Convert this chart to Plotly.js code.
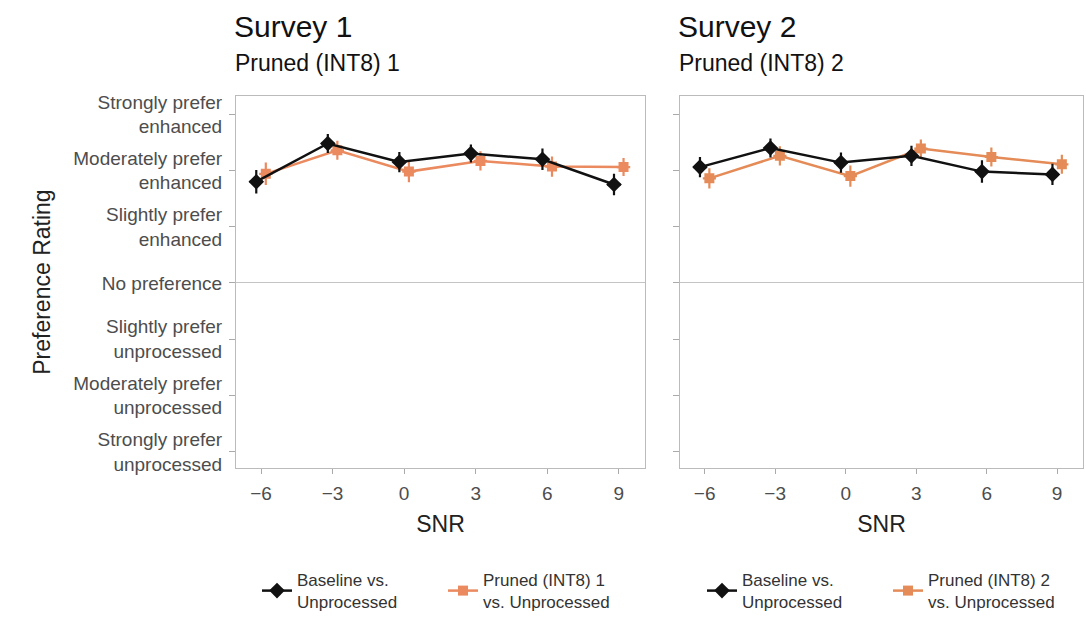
<!DOCTYPE html>
<html>
<head>
<meta charset="utf-8">
<script src="https://cdn.plot.ly/plotly-3.0.1.min.js"></script>
<style>html,body{margin:0;padding:0;background:#fff;}#chart{width:1086px;height:620px;}</style>
</head>
<body>
<div id="chart"></div>
<script>
// SNR conditions (dB)
const snr = [-6, -3, 0, 3, 6, 9];

// Survey 1 mean ratings and error half-widths
const s1Baseline = [1.80, 2.48, 2.15, 2.30, 2.20, 1.75];
const s1BaselineErr = [0.21, 0.17, 0.18, 0.16, 0.19, 0.19];
const s1Pruned = [1.94, 2.36, 1.98, 2.17, 2.07, 2.06];
const s1PrunedErr = [0.20, 0.17, 0.19, 0.17, 0.18, 0.16];

// Survey 2 mean ratings and error half-widths
const s2Baseline = [2.06, 2.40, 2.14, 2.26, 1.98, 1.93];
const s2BaselineErr = [0.18, 0.17, 0.18, 0.18, 0.20, 0.19];
const s2Pruned = [1.86, 2.26, 1.90, 2.39, 2.24, 2.11];
const s2PrunedErr = [0.18, 0.17, 0.19, 0.16, 0.17, 0.17];

// Y-axis rating scale
const ratingVals = [3, 2, 1, 0, -1, -2, -3];
const ratingText = [
  'Strongly prefer<br>enhanced',
  'Moderately prefer<br>enhanced',
  'Slightly prefer<br>enhanced',
  'No preference',
  'Slightly prefer<br>unprocessed',
  'Moderately prefer<br>unprocessed',
  'Strongly prefer<br>unprocessed'
];

const dodge = 0.2;
const FONT = 'Liberation Sans, Arial, sans-serif';
const BLACK = '#111111';
const ORANGE1 = '#EA8A5E';
const ORANGE2 = '#E48B57';

function mk(x0, y, err, name, color, symbol, size, xa, ya, legend, offset) {
  return {
    x: x0.map(v => v + offset), y: y, type: 'scatter', mode: 'lines+markers',
    name: name, xaxis: xa, yaxis: ya, legend: legend,
    line: {color: color, width: 2.5},
    marker: {color: color, symbol: symbol, size: size},
    error_y: {type: 'data', array: err, visible: true, color: color, thickness: 2.2, width: 0},
    error_x: {type: 'constant', value: 0.28, visible: true, color: color, thickness: 2.2, width: 0}
  };
}

const traces = [
  mk(snr, s1Pruned, s1PrunedErr, 'Pruned (INT8) 1<br>vs. Unprocessed', ORANGE1, 'square', 10, 'x', 'y', 'legend', dodge),
  mk(snr, s1Baseline, s1BaselineErr, 'Baseline vs.<br>Unprocessed', BLACK, 'diamond', 12, 'x', 'y', 'legend', -dodge),
  mk(snr, s2Pruned, s2PrunedErr, 'Pruned (INT8) 2<br>vs. Unprocessed', ORANGE2, 'square', 10, 'x2', 'y2', 'legend2', dodge),
  mk(snr, s2Baseline, s2BaselineErr, 'Baseline vs.<br>Unprocessed', BLACK, 'diamond', 12, 'x2', 'y2', 'legend2', -dodge)
];

const W = 1086, H = 620;
const px = v => v / W, py = v => 1 - v / H;

const xBase = {
  range: [-7.05, 10.1], tickvals: snr, ticks: 'outside', ticklen: 5, tickwidth: 1,
  tickcolor: '#aaaaaa', showline: true, mirror: true, linecolor: '#bbbbbb', linewidth: 1,
  showgrid: false, zeroline: false, ticklabelstandoff: 3, automargin: false,
  tickfont: {family: FONT, size: 19, color: '#4d4d4d'},
  title: {text: 'SNR', font: {family: FONT, size: 23, color: '#222'}, standoff: 12}
};
const yBase = {
  range: [-3.3, 3.33], tickvals: ratingVals, ticktext: ratingText, ticks: 'outside',
  ticklen: 6, tickwidth: 1, tickcolor: '#aaaaaa', showline: true, mirror: true,
  linecolor: '#bbbbbb', linewidth: 1, showgrid: false, automargin: false,
  zeroline: true, zerolinecolor: '#c4c4c4', zerolinewidth: 1, ticklabelstandoff: 3,
  tickfont: {family: FONT, size: 19, color: '#4d4d4d'}
};

const legendBase = {orientation: 'h', xanchor: 'left', y: py(593), yanchor: 'middle',
  entrywidthmode: 'pixels', entrywidth: 141,
  font: {family: FONT, size: 17, color: '#333'}, traceorder: 'reversed', bgcolor: 'rgba(0,0,0,0)'};

const layout = {
  width: W, height: H,
  margin: {l: 0, r: 0, t: 0, b: 0},
  paper_bgcolor: '#ffffff', plot_bgcolor: '#ffffff',
  font: {family: FONT, color: '#222'},
  showlegend: true,
  xaxis: Object.assign({}, xBase, {domain: [px(236), px(645)], anchor: 'y'}),
  yaxis: Object.assign({}, yBase, {domain: [py(470), py(96)], anchor: 'x',
    title: {text: 'Preference Rating', font: {family: FONT, size: 23, color: '#222'}, standoff: 16}}),
  xaxis2: Object.assign({}, xBase, {domain: [px(680), px(1083)], anchor: 'y2'}),
  yaxis2: Object.assign({}, yBase, {domain: [py(470), py(96)], anchor: 'x2', showticklabels: false}),
  legend: Object.assign({}, legendBase, {x: px(257)}),
  legend2: Object.assign({}, legendBase, {x: px(702)}),
  annotations: [
    {text: 'Survey 1', xref: 'paper', yref: 'paper', x: px(232), y: py(27), xanchor: 'left', yanchor: 'middle', showarrow: false, font: {family: FONT, size: 30, color: '#111'}},
    {text: 'Pruned (INT8) 1', xref: 'paper', yref: 'paper', x: px(233), y: py(63), xanchor: 'left', yanchor: 'middle', showarrow: false, font: {family: FONT, size: 23, color: '#111'}},
    {text: 'Survey 2', xref: 'paper', yref: 'paper', x: px(676), y: py(27), xanchor: 'left', yanchor: 'middle', showarrow: false, font: {family: FONT, size: 30, color: '#111'}},
    {text: 'Pruned (INT8) 2', xref: 'paper', yref: 'paper', x: px(677), y: py(63), xanchor: 'left', yanchor: 'middle', showarrow: false, font: {family: FONT, size: 23, color: '#111'}}
  ]
};

Plotly.newPlot('chart', traces, layout, {displayModeBar: false, staticPlot: true});
</script>
</body>
</html>
